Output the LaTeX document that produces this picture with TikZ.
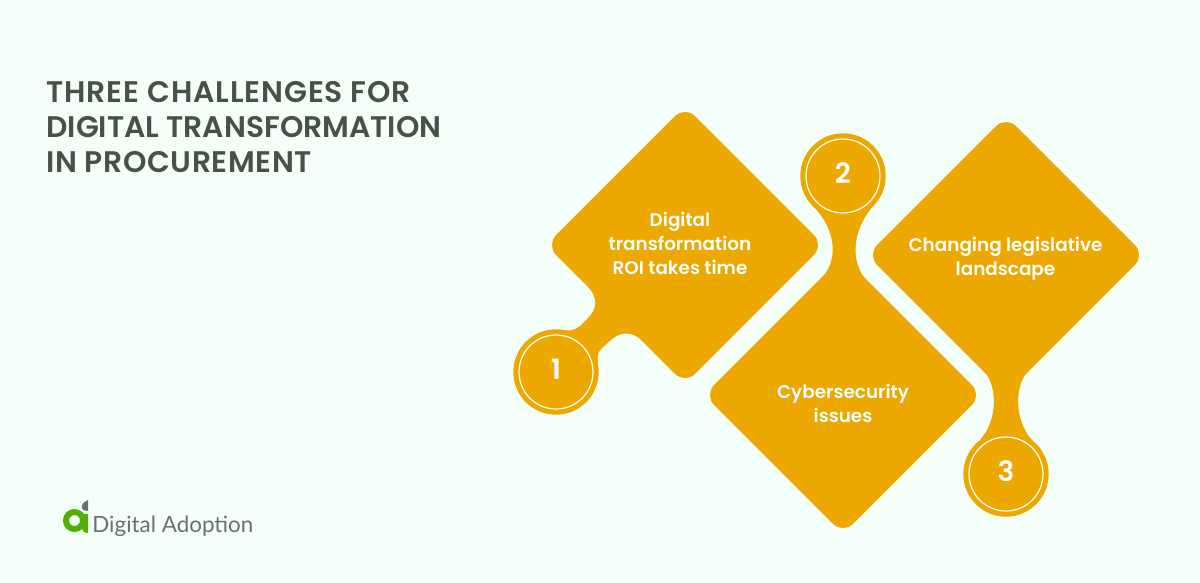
\documentclass[tikz,border=0pt]{standalone}
\usepackage{fontspec}
\setmainfont{Poppins}[BoldFont=Poppins SemiBold]
\newfontfamily\logofont{Lato}
\definecolor{paper}{RGB}{245,255,250}
\definecolor{amber}{RGB}{237,168,0}
\definecolor{slate}{RGB}{74,79,74}
\definecolor{leaf}{RGB}{84,174,10}
\definecolor{ash}{RGB}{109,110,112}
\usetikzlibrary{shapes.geometric}
\tikzset{
  card/.style={shape=diamond, aspect=1, fill=amber, inner sep=0pt, rounded corners=7pt,
              minimum width=139pt, minimum height=139pt},
  neck/.style={fill=amber},
  dot/.style={circle, fill=amber, inner sep=0pt, minimum size=42.7pt},
  ring/.style={circle, draw=white, line width=0.6pt, inner sep=0pt, minimum size=37pt,
              text=white, text depth=3pt, font=\bfseries\fontsize{14}{14}\selectfont},
  cardtext/.style={text=white, align=center, font=\bfseries\fontsize{9.2}{12}\selectfont},
  heading/.style={text=slate, align=left, anchor=west, inner sep=0pt,
              font=\bfseries\fontsize{14.9}{17.5}\selectfont},
}

\begin{document}
\begin{tikzpicture}[x=0.5pt, y=-0.5pt]
        \fill[paper] (0,0) rectangle (1200,583);
        \useasboundingbox (0,0) rectangle (1200,583);
        \node[heading] (title) at (46,127.5) {\addfontfeature{LetterSpace=3}THREE CHALLENGES FOR\\DIGITAL TRANSFORMATION\\\addfontfeature{LetterSpace=2}IN PROCUREMENT};
        % the three cards
        \node[card] (c1) at (685,245) {};
        \node[card] (c2) at (843,395) {};
        \node[card] (c3) at (1006,255) {};
        % necks between cards and dots
        \fill[neck] (582,280) .. controls (597,295) and (600,305) .. (588,318) -- (580,326)
          .. controls (574,331) and (568,331) .. (560,330) -- (556,372) -- (598,362)
          .. controls (597,355) and (598,352) .. (602,348) -- (612,339)
          .. controls (622,331) and (632,332) .. (642,340) -- (620,280) -- cycle;
        \fill[neck] (820,280) .. controls (838,262) and (838,232) .. (813,206) -- (873,206)
          .. controls (851,232) and (851,262) .. (866,280) -- (843,330) -- cycle;
        \fill[neck] (983,370) .. controls (998,385) and (998,420) .. (980,440) -- (1032,440)
          .. controls (1014,420) and (1014,385) .. (1029,370) -- (1006,350) -- cycle;
        \node[dot] (d1) at (556,372) {};
        \node[dot] (d2) at (843,176) {};
        \node[dot] (d3) at (1006,474) {};
        \node[ring] (n1) at (d1) {1};
        \node[ring] (n2) at (d2) {2};
        \node[ring] (n3) at (d3) {3};
        \node[cardtext] (t1) at (680,243.5) {Digital\\transformation\\ROI takes time};
        \node[cardtext] (t2) at (843,403) {Cybersecurity\\issues};
        \node[cardtext] (t3) at (1005.5,258.5) {Changing legislative\\landscape};
        % logo
        \draw[leaf, line width=3pt] (74.5,520.5) circle (8.5);
        \fill[leaf] (82,514) -- (88,514) -- (88,533) .. controls (83,533) and (82,530) .. (82,526) -- cycle;
        \fill[ash] (88,500) -- (88,511) -- (83,510) .. controls (80,506) and (83,502) .. (88,500) -- cycle;
        \node[text=ash, anchor=west, inner sep=0pt, font=\logofont\fontsize{11.2}{14}\selectfont] (logo) at (92,526) {Digital Adoption};
      \end{tikzpicture}
\end{document}
